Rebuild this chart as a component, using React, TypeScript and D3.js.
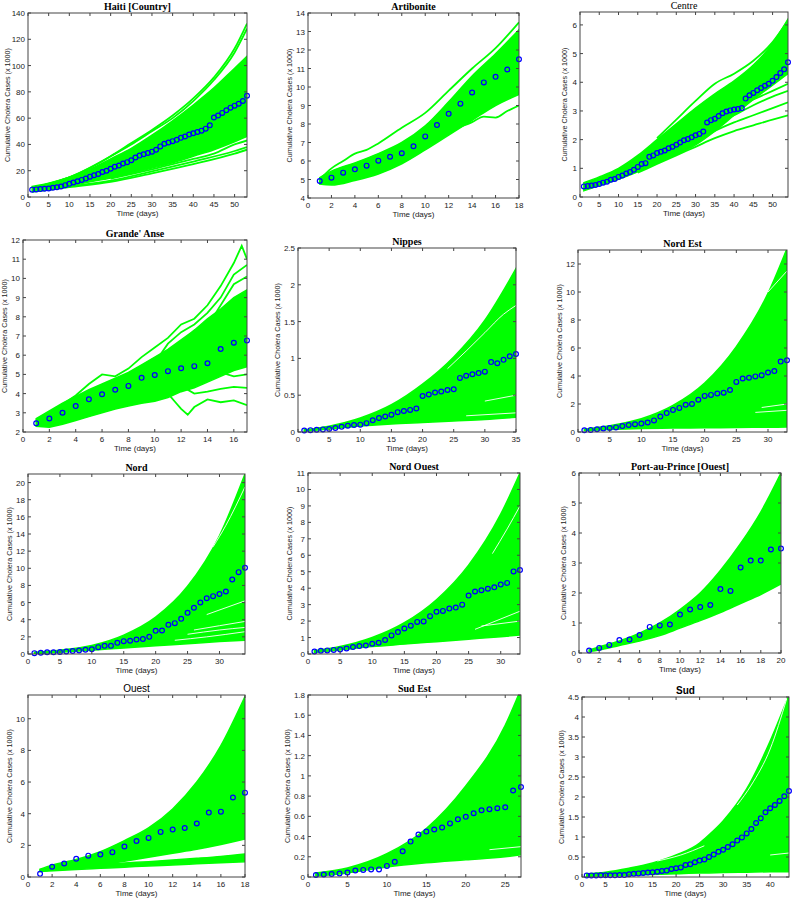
import React from 'react';
import * as d3 from 'd3';

// observed cumulative cases (x 1000), one value per day starting at day 1
const haitiObs = [5.6, 5.8, 6.0, 6.3, 6.5, 7.0, 7.4, 8.0, 9.0, 10.0, 11, 12, 13, 14, 15.5, 16.5, 17.5, 19, 20, 21.5, 23, 24, 25.5, 26.5, 28, 30, 31.5, 32.5, 33.5, 34.5, 36, 38.5, 40.5, 41.5, 42.5, 43.5, 45, 46, 47.5, 48.5, 49.5, 50.5, 52, 54.5, 60.5, 62, 64, 66, 68, 69.5, 71, 73, 77];
const artiboniteObs = [4.92, 5.1, 5.37, 5.55, 5.75, 6.02, 6.23, 6.42, 6.8, 7.33, 7.95, 8.55, 9.1, 9.7, 10.25, 10.55, 10.95, 11.5];
const centreObs = [0.37, 0.38, 0.4, 0.42, 0.45, 0.5, 0.53, 0.6, 0.63, 0.7, 0.75, 0.82, 0.87, 0.95, 1.05, 1.15, 1.18, 1.4, 1.45, 1.53, 1.58, 1.62, 1.7, 1.75, 1.82, 1.9, 1.98, 2.02, 2.08, 2.15, 2.2, 2.28, 2.6, 2.68, 2.73, 2.82, 2.92, 2.98, 3.02, 3.05, 3.07, 3.1, 3.43, 3.55, 3.63, 3.72, 3.8, 3.88, 3.95, 4.05, 4.18, 4.32, 4.45, 4.7];
const grandeAnseObs = [2.45, 2.7, 3.0, 3.35, 3.7, 3.97, 4.2, 4.4, 4.82, 4.97, 5.17, 5.32, 5.43, 5.58, 6.32, 6.65, 6.77];
const nippesObs = [0.02, 0.025, 0.03, 0.035, 0.04, 0.055, 0.07, 0.085, 0.095, 0.1, 0.12, 0.16, 0.19, 0.21, 0.235, 0.27, 0.285, 0.3, 0.32, 0.49, 0.51, 0.535, 0.55, 0.57, 0.58, 0.735, 0.765, 0.785, 0.8, 0.82, 0.95, 0.935, 0.98, 1.03, 1.06];
const nordEstObs = [0.12, 0.15, 0.2, 0.25, 0.28, 0.33, 0.42, 0.5, 0.55, 0.6, 0.68, 0.83, 1.1, 1.35, 1.58, 1.72, 1.95, 2.0, 2.3, 2.58, 2.65, 2.75, 2.8, 3.0, 3.58, 3.82, 3.88, 3.97, 4.05, 4.25, 4.35, 5.03, 5.12];
const nordObs = [0.1, 0.15, 0.2, 0.2, 0.22, 0.3, 0.35, 0.4, 0.5, 0.55, 0.8, 0.95, 0.95, 1.3, 1.5, 1.55, 1.7, 1.75, 2.0, 2.7, 2.75, 3.4, 3.6, 4.1, 4.8, 5.4, 6.0, 6.5, 6.75, 7.0, 7.3, 8.7, 9.55, 10.05];
const nordOuestObs = [0.15, 0.2, 0.22, 0.25, 0.28, 0.33, 0.42, 0.48, 0.52, 0.62, 0.68, 0.85, 1.13, 1.33, 1.55, 1.72, 1.95, 1.98, 2.3, 2.57, 2.62, 2.76, 2.82, 3.0, 3.55, 3.8, 3.87, 3.97, 4.05, 4.22, 4.32, 5.02, 5.1];
const papObs = [0.08, 0.17, 0.27, 0.43, 0.45, 0.6, 0.87, 0.92, 0.95, 1.28, 1.45, 1.53, 1.6, 2.13, 2.07, 2.85, 3.08, 3.08, 3.45, 3.48];
const ouestObs = [0.2, 0.65, 0.85, 1.15, 1.35, 1.42, 1.57, 1.93, 2.27, 2.47, 2.85, 3.0, 3.1, 3.38, 4.07, 4.13, 5.02, 5.33];
const sudEstObs = [0.02, 0.025, 0.03, 0.035, 0.045, 0.065, 0.07, 0.075, 0.075, 0.11, 0.15, 0.255, 0.35, 0.42, 0.45, 0.47, 0.49, 0.53, 0.57, 0.595, 0.63, 0.66, 0.67, 0.68, 0.69, 0.855, 0.89];
const sudObs = [0.04, 0.04, 0.04, 0.045, 0.045, 0.045, 0.045, 0.05, 0.05, 0.07, 0.08, 0.09, 0.1, 0.11, 0.12, 0.13, 0.15, 0.16, 0.2, 0.22, 0.24, 0.3, 0.32, 0.37, 0.41, 0.44, 0.5, 0.56, 0.63, 0.68, 0.75, 0.82, 0.91, 0.99, 1.09, 1.2, 1.35, 1.47, 1.62, 1.72, 1.8, 1.9, 2.02, 2.15];

// simulated trajectories, read as envelopes: [day, low, high]
const haitiBand = [[1, 4.5, 8], [5, 5.5, 10.5], [10, 8.5, 15], [15, 11.5, 21], [20, 14.5, 29], [25, 18, 37], [30, 22, 47], [35, 26, 58], [40, 31, 70], [45, 36, 83], [50, 42, 98], [53, 46, 107]];
const artiboniteBand = [[1, 4.75, 5.1], [2, 4.7, 5.45], [4, 4.95, 5.9], [6, 5.3, 6.4], [8, 5.85, 7.0], [10, 6.6, 7.9], [12, 7.4, 9.2], [14, 8.2, 10.6], [16, 9.0, 11.8], [18, 9.6, 13.1]];
const centreBand = [[1, 0.22, 0.5], [5, 0.4, 0.7], [10, 0.62, 1.0], [15, 0.88, 1.45], [20, 1.18, 2.0], [25, 1.48, 2.55], [30, 1.82, 3.1], [35, 2.3, 3.6], [40, 2.85, 4.05], [45, 3.4, 4.6], [50, 3.9, 5.35], [54, 4.3, 6.2]];
const grandeAnseBand = [[1, 2.3, 2.7], [2, 2.25, 3.1], [3, 2.4, 3.5], [4, 2.6, 3.85], [5, 2.8, 4.2], [6, 3.0, 4.5], [7, 3.2, 4.8], [8, 3.35, 5.1], [9, 3.5, 5.5], [10, 3.6, 5.9], [11, 3.8, 6.3], [12, 4.1, 6.8], [13, 4.3, 7.3], [14, 4.6, 7.9], [15, 4.9, 8.4], [16, 5.2, 9.0], [17, 5.4, 9.4]];
const nippesBand = [[1, 0.01, 0.03], [5, 0.04, 0.08], [10, 0.08, 0.19], [15, 0.11, 0.37], [20, 0.13, 0.65], [25, 0.15, 1.02], [30, 0.17, 1.52], [35, 0.2, 2.22]];
const nordEstBand = [[1, 0.1, 0.2], [5, 0.18, 0.45], [10, 0.25, 0.95], [15, 0.28, 1.9], [20, 0.3, 3.5], [25, 0.32, 6.1], [30, 0.34, 9.9], [33, 0.35, 13.1]];
const nordBand = [[1, 0.05, 0.2], [5, 0.2, 0.45], [10, 0.45, 1.0], [15, 0.7, 2.2], [20, 0.95, 4.3], [25, 1.2, 7.9], [30, 1.45, 13.8], [34, 1.6, 21]];
const nordOuestBand = [[1, 0.1, 0.2], [5, 0.25, 0.45], [10, 0.45, 1.0], [15, 0.6, 1.9], [20, 0.75, 3.3], [25, 0.9, 5.4], [30, 1.05, 8.5], [33, 1.15, 11]];
const papBand = [[1, 0.05, 0.1], [2, 0.1, 0.2], [4, 0.25, 0.4], [6, 0.4, 0.66], [8, 0.58, 1.0], [10, 0.83, 1.45], [12, 1.08, 2.0], [14, 1.35, 2.75], [16, 1.65, 3.65], [18, 1.95, 4.7], [20, 2.3, 6.0]];
const ouestBandUpper = [[1, 0.35, 0.5], [2, 0.45, 0.75], [4, 0.6, 1.1], [6, 0.75, 1.6], [8, 1.0, 2.3], [10, 1.25, 3.1], [12, 1.5, 4.3], [14, 1.75, 6.0], [16, 2.05, 8.3], [18, 2.4, 11.4]];
const ouestBandLower = [[1, 0.35, 0.45], [4, 0.48, 0.65], [6, 0.55, 0.78], [8, 0.62, 0.88], [10, 0.7, 0.97], [12, 0.76, 1.07], [14, 0.83, 1.18], [16, 0.9, 1.3], [18, 0.97, 1.45]];
const sudEstBand = [[1, 0.01, 0.04], [5, 0.04, 0.09], [10, 0.1, 0.23], [15, 0.14, 0.48], [20, 0.17, 0.9], [25, 0.2, 1.5], [27, 0.22, 1.86]];
const sudBand = [[1, 0.02, 0.08], [5, 0.03, 0.12], [10, 0.05, 0.22], [15, 0.06, 0.35], [20, 0.08, 0.55], [25, 0.1, 0.85], [26, 0.1, 0.95], [30, 0.11, 1.4], [35, 0.12, 2.2], [40, 0.13, 3.4], [44, 0.13, 4.55]];

// stray trajectories outside the main envelope: lists of [day, value]
const haitiRuns = [
  [[1, 7], [10, 15], [15, 22], [20, 31], [25, 41], [30, 51], [35, 62], [40, 75], [45, 91], [50, 113], [53, 132]],
  [[1, 7], [10, 15], [20, 31], [25, 40], [30, 50], [35, 60], [40, 73], [45, 89], [50, 110], [53, 128]],
  [[1, 4], [10, 7.5], [20, 11.5], [30, 18], [40, 25], [50, 33], [53, 36]],
  [[1, 4.2], [10, 8], [20, 12.5], [30, 19.5], [40, 27], [50, 35], [53, 38]],
  [[20, 14], [30, 21], [40, 29], [45, 33], [50, 40], [53, 43]],
];
const artiboniteRuns = [
  [[1, 5.0], [2, 5.6], [3, 6.0], [4, 6.4], [5, 6.6], [6, 6.95], [8, 7.8], [10, 8.6], [12, 9.8], [14, 11.0], [16, 12.1], [18, 13.5]],
  [[6, 5.6], [8, 6.3], [10, 6.9], [12, 7.6], [14, 8.1], [15, 8.4], [16, 8.35], [17, 8.7], [18, 9.0]],
];
const centreRuns = [
  [[20, 2.05], [25, 2.7], [30, 3.35], [35, 3.95], [40, 4.3], [45, 4.75], [50, 5.4], [54, 6.15]],
  [[15, 0.85], [20, 1.15], [25, 1.45], [30, 1.75], [35, 2.05], [40, 2.3], [45, 2.5], [50, 2.7], [54, 2.85]],
  [[20, 1.2], [25, 1.55], [30, 1.9], [35, 2.3], [40, 2.6], [45, 2.85], [50, 3.1], [54, 3.3]],
  [[25, 1.6], [30, 2.05], [35, 2.5], [40, 2.85], [45, 3.2], [50, 3.5], [54, 3.7]],
  [[30, 2.2], [35, 2.7], [40, 3.1], [45, 3.4], [50, 3.7], [54, 3.95]],
];
const grandeAnseRuns = [
  [[1, 2.6], [2, 3.0], [3, 3.45], [4, 3.9], [5, 4.5], [6, 5.0], [7, 4.9], [8, 5.3], [9, 5.9], [10, 6.4], [11, 6.9], [12, 7.6], [13, 7.9], [14, 8.6], [15, 9.6], [16, 10.8], [16.6, 11.7], [17, 11.0]],
  [[8, 4.9], [9, 5.2], [10, 5.6], [11, 6.6], [12, 7.2], [13, 7.6], [14, 8.2], [15, 9.0], [16, 10.2], [17, 10.7]],
  [[10, 5.7], [11, 6.1], [12, 6.6], [13, 7.3], [14, 7.5], [15, 8.6], [16, 9.7], [17, 10.1]],
  [[6, 3.2], [7, 3.35], [8, 3.5], [9, 3.6], [10, 3.85], [11, 4.0], [11.5, 3.6], [12, 3.2], [12.5, 2.9], [13, 3.3], [14, 3.7], [15, 3.55], [16, 3.65], [17, 3.4]],
  [[9, 4.0], [10, 4.3], [11, 4.6], [12, 4.4], [13, 4.0], [14, 4.1], [15, 4.25], [16, 4.35], [17, 4.3]],
  [[11, 4.6], [12, 4.8], [13, 5.0], [14, 4.9], [15, 5.1], [16, 4.9], [17, 5.0]],
];

// thin white gaps between bundles of trajectories
const nippesGaps = [[[24, 0.86], [27, 1.1], [30, 1.35], [33, 1.6], [35, 1.72]], [[30, 0.42], [35, 0.5]], [[27, 0.22], [35, 0.26]]];
const nordEstGaps = [[[28, 1.4], [33, 1.55]], [[29, 1.75], [33, 2.0]], [[30, 10.0], [33, 11.5]]];
const nordGaps = [[[23, 1.6], [28, 2.0], [34, 2.6]], [[25, 2.3], [30, 2.8], [34, 3.1]], [[26, 2.8], [30, 3.3], [34, 3.8]], [[28, 4.6], [34, 6.2]], [[29, 12.5], [31, 15], [34, 19.5]]];
const nordOuestGaps = [[[28.7, 6.1], [31, 7.6], [33, 9.0]], [[26, 1.5], [33, 2.6]], [[27, 1.7], [33, 2.0]]];
const sudEstGaps = [[[19.5, 1.0], [22, 1.27], [24, 1.5], [26, 1.75]], [[23, 0.27], [27, 0.3]]];
const sudGaps = [[[16, 0.4], [21, 0.55], [26, 0.78]], [[33, 1.8], [36, 2.3], [40, 3.2], [43.5, 4.45]], [[40, 0.55], [44, 0.6]]];

// tick labels
const xTicks5to50 = [0, 5, 10, 15, 20, 25, 30, 35, 40, 45, 50];
const xTicks5to30 = [0, 5, 10, 15, 20, 25, 30];
const haitiYTicks = [0, 20, 40, 60, 80, 100, 120, 140];
const artiboniteXTicks = [0, 2, 4, 6, 8, 10, 12, 14, 16, 18];
const artiboniteYTicks = [4, 5, 6, 7, 8, 9, 10, 11, 12, 13, 14];
const centreYTicks = [0, 1, 2, 3, 4, 5, 6];
const grandeAnseXTicks = [0, 2, 4, 6, 8, 10, 12, 14, 16];
const grandeAnseYTicks = [2, 3, 4, 5, 6, 7, 8, 9, 10, 11, 12];
const nippesXTicks = [0, 5, 10, 15, 20, 25, 30, 35];
const nippesYTicks = [0, 0.5, 1, 1.5, 2, 2.5];
const nordEstYTicks = [0, 2, 4, 6, 8, 10, 12];
const nordYTicks = [0, 2, 4, 6, 8, 10, 12, 14, 16, 18, 20];
const nordOuestYTicks = [0, 1, 2, 3, 4, 5, 6, 7, 8, 9, 10, 11];
const papXTicks = [0, 2, 4, 6, 8, 10, 12, 14, 16, 18, 20];
const papYTicks = [0, 1, 2, 3, 4, 5, 6];
const ouestYTicks = [0, 2, 4, 6, 8, 10];
const sudEstXTicks = [0, 5, 10, 15, 20, 25];
const sudEstYTicks = [0, 0.2, 0.4, 0.6, 0.8, 1, 1.2, 1.4, 1.6, 1.8];
const sudXTicks = [0, 5, 10, 15, 20, 25, 30, 35, 40];
const sudYTicks = [0, 0.5, 1, 1.5, 2, 2.5, 3, 3.5, 4, 4.5];

const GREEN = '#00ff00';
const BLUE = '#0000ff';
const SERIF_BOLD = { fontFamily: 'Liberation Serif', fontWeight: 700 };
const SERIF = { fontFamily: 'Liberation Serif', fontWeight: 400 };
const SANS = { fontFamily: 'Liberation Sans', fontWeight: 400 };

const panels = [
  { title: 'Haiti [Country]', tf: SERIF_BOLD, frame: [28, 13, 247, 197], xMax: 53, yMin: 0, yMax: 140, xTicks: xTicks5to50, yTicks: haitiYTicks, obs: haitiObs, bands: [haitiBand], runs: haitiRuns, gaps: [] },
  { title: 'Artibonite', tf: SERIF_BOLD, frame: [308, 13, 519, 198], xMax: 18, yMin: 4, yMax: 14, xTicks: artiboniteXTicks, yTicks: artiboniteYTicks, obs: artiboniteObs, bands: [artiboniteBand], runs: artiboniteRuns, gaps: [] },
  { title: 'Centre', tf: SERIF, frame: [580, 12, 788, 197], xMax: 54, yMin: 0, yMax: 6.45, xTicks: xTicks5to50, yTicks: centreYTicks, obs: centreObs, bands: [centreBand], runs: centreRuns, gaps: [] },
  { title: "Grande' Anse", tf: SERIF_BOLD, frame: [23, 240, 247, 432], xMax: 17, yMin: 2, yMax: 12, xTicks: grandeAnseXTicks, yTicks: grandeAnseYTicks, obs: grandeAnseObs, bands: [grandeAnseBand], runs: grandeAnseRuns, gaps: [], jagged: true },
  { title: 'Nippes', tf: SERIF_BOLD, frame: [298, 248, 516, 432], xMax: 35, yMin: 0, yMax: 2.5, xTicks: nippesXTicks, yTicks: nippesYTicks, obs: nippesObs, bands: [nippesBand], runs: [], gaps: nippesGaps },
  { title: 'Nord Est', tf: SERIF_BOLD, frame: [578, 250, 787, 432], xMax: 33, yMin: 0, yMax: 13, xTicks: xTicks5to30, yTicks: nordEstYTicks, obs: nordEstObs, bands: [nordEstBand], runs: [], gaps: nordEstGaps },
  { title: 'Nord', tf: SERIF_BOLD, frame: [28, 474, 245, 654], xMax: 34, yMin: 0, yMax: 21, xTicks: xTicks5to30, yTicks: nordYTicks, obs: nordObs, bands: [nordBand], runs: [], gaps: nordGaps },
  { title: 'Nord Ouest', tf: SERIF_BOLD, frame: [308, 473, 520, 654], xMax: 33, yMin: 0, yMax: 11, xTicks: xTicks5to30, yTicks: nordOuestYTicks, obs: nordOuestObs, bands: [nordOuestBand], runs: [], gaps: nordOuestGaps },
  { title: 'Port-au-Prince [Ouest]', tf: SERIF_BOLD, frame: [579, 473, 781, 653], xMax: 20, yMin: 0, yMax: 6, xTicks: papXTicks, yTicks: papYTicks, obs: papObs, bands: [papBand], runs: [], gaps: [] },
  { title: 'Ouest', tf: SANS, frame: [28, 695, 245, 877], xMax: 18, yMin: 0, yMax: 11.5, xTicks: artiboniteXTicks, yTicks: ouestYTicks, obs: ouestObs, bands: [ouestBandUpper, ouestBandLower], runs: [], gaps: [] },
  { title: 'Sud Est', tf: SERIF_BOLD, frame: [308, 695, 521, 877], xMax: 27, yMin: 0, yMax: 1.8, xTicks: sudEstXTicks, yTicks: sudEstYTicks, obs: sudEstObs, bands: [sudEstBand], runs: [], gaps: sudEstGaps },
  { title: 'Sud', tf: { fontFamily: 'Liberation Sans', fontWeight: 700 }, frame: [582, 697, 789, 877], xMax: 44, yMin: 0, yMax: 4.5, xTicks: sudXTicks, yTicks: sudYTicks, obs: sudObs, bands: [sudBand], runs: [], gaps: sudGaps },
];

const fmt = (v: number) => String(+v.toFixed(2));

function Panel({ p, i }: { p: any; i: number }) {
  const [l, t, r, b] = p.frame;
  const x = d3.scaleLinear().domain([0, p.xMax]).range([l, r]);
  const y = d3.scaleLinear().domain([p.yMin, p.yMax]).range([b, t]);
  const curve = p.jagged ? d3.curveLinear : d3.curveMonotoneX;
  const area = d3.area<number[]>().x(d => x(d[0])).y0(d => y(d[1])).y1(d => y(d[2])).curve(curve);
  const line = d3.line<number[]>().x(d => x(d[0])).y(d => y(d[1])).curve(curve);
  const clipId = `clip${i}`;
  const maxLen = d3.max(p.yTicks as number[], v => fmt(v).length) || 1;
  const ylabX = l - 10 - 2.8 * maxLen;
  const axisColor = '#444';

  return (
    <g>
      <defs>
        <clipPath id={clipId}>
          <rect x={l} y={t} width={r - l} height={b - t} />
        </clipPath>
      </defs>
      <g clipPath={`url(#${clipId})`}>
        {p.bands.map((band: number[][], k: number) => (
          <path key={'b' + k} d={area(band) || ''} fill={GREEN} stroke={GREEN} strokeWidth={1.5} />
        ))}
        {p.runs.map((run: number[][], k: number) => (
          <path key={'r' + k} d={line(run) || ''} fill="none" stroke={GREEN} strokeWidth={1.8} />
        ))}
        {p.gaps.map((g: number[][], k: number) => (
          <path key={'g' + k} d={line(g) || ''} fill="none" stroke="#fff" strokeWidth={0.9} />
        ))}
      </g>
      {p.obs.map((v: number, k: number) => (
        <circle key={'o' + k} cx={x(k + 1)} cy={y(v)} r={2.4} fill="none" stroke={BLUE} strokeWidth={1.2} />
      ))}
      <rect x={l} y={t} width={r - l} height={b - t} fill="none" stroke={axisColor} strokeWidth={1} />
      {p.xTicks.map((v: number) => (
        <g key={'xt' + v}>
          <line x1={x(v)} x2={x(v)} y1={b} y2={b - 3} stroke={axisColor} />
          <line x1={x(v)} x2={x(v)} y1={t} y2={t + 3} stroke={axisColor} />
          <text x={x(v)} y={b + 10} textAnchor="middle" fontSize={8} fill="#222" style={SANS}>{fmt(v)}</text>
        </g>
      ))}
      {p.yTicks.map((v: number) => (
        <g key={'yt' + v}>
          <line x1={l} x2={l + 3} y1={y(v)} y2={y(v)} stroke={axisColor} />
          <line x1={r} x2={r - 3} y1={y(v)} y2={y(v)} stroke={axisColor} />
          <text x={l - 3} y={y(v) + 3} textAnchor="end" fontSize={8} fill="#222" style={SANS}>{fmt(v)}</text>
        </g>
      ))}
      <text x={(l + r) / 2} y={t - 3} textAnchor="middle" fontSize={10} fill="#000" style={p.tf}>{p.title}</text>
      <text x={(l + r) / 2} y={b + 19} textAnchor="middle" fontSize={8} fill="#222" style={SANS}>Time (days)</text>
      <text transform={`translate(${ylabX},${(t + b) / 2}) rotate(-90)`} textAnchor="middle" fontSize={7.2} fill="#222" style={SANS}>
        Cumulative Cholera Cases (x 1000)
      </text>
    </g>
  );
}

export default function App() {
  return (
    <svg width={794} height={900} style={{ position: 'absolute', left: 0, top: 0, background: '#fff' }}>
      <rect width={794} height={900} fill="#fff" />
      {panels.map((p, i) => <Panel key={p.title} p={p} i={i} />)}
    </svg>
  );
}
